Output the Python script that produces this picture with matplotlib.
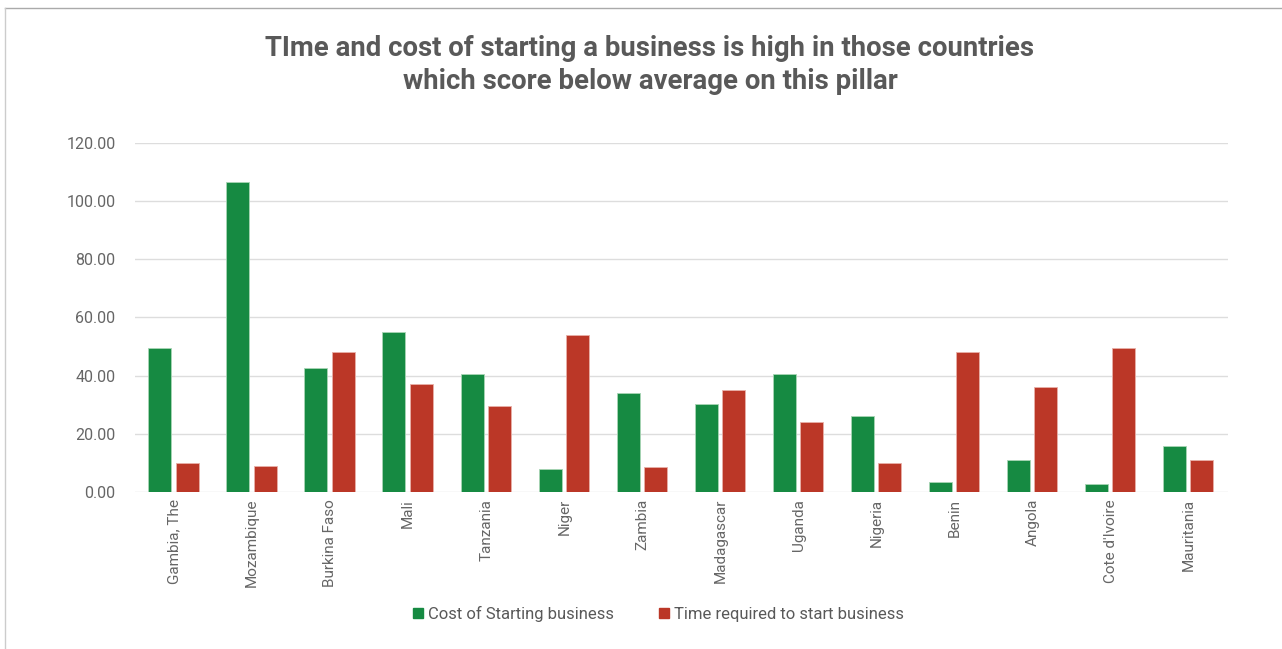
import numpy as np
import matplotlib
matplotlib.use("Agg")
import matplotlib.pyplot as plt
from matplotlib.lines import Line2D

plt.rcParams['font.family'] = ['Roboto', 'DejaVu Sans']

countries = ["Gambia, The", "Mozambique", "Burkina Faso", "Mali", "Tanzania", "Niger",
             "Zambia", "Madagascar", "Uganda", "Nigeria", "Benin", "Angola",
             "Cote d'Ivoire", "Mauritania"]
cost = [49.4, 106.7, 42.8, 55.1, 40.7, 7.8, 34.0, 30.1, 40.6, 26.0, 3.4, 11.0, 2.6, 15.7]
time_req = [9.9, 9.0, 48.0, 37.0, 29.5, 54.0, 8.5, 35.1, 24.0, 9.9, 48.0, 36.1, 49.5, 10.9]
yticks = [0, 20, 40, 60, 80, 100, 120]

green = '#168a42'
red = '#bb3727'
txt = '#666666'

fig = plt.figure(figsize=(12.82, 6.49), dpi=100)
ax = fig.add_axes([0.1053, 0.2419, 0.8525, 0.5378])

x = np.arange(len(countries))
w = 0.295
ax.bar(x - w/2 - 0.035, cost, w, color=green, edgecolor='#a8d5b5', linewidth=0.6,
       label='Cost of Starting business', zorder=3)
ax.bar(x + w/2 + 0.02, time_req, w, color=red, edgecolor='#e8b0a8', linewidth=0.6,
       label='Time required to start business', zorder=3)

ax.set_xlim(-0.5, len(countries) - 0.5)
ax.set_ylim(0, 120)
ax.set_yticks(yticks)
ax.set_yticklabels([f"{v:.2f}" for v in yticks], fontsize=11.5, color=txt)
ax.set_xticks(x)
ax.set_xticklabels(countries, rotation=90, fontsize=11, color=txt)
ax.tick_params(axis='x', length=0, pad=5)
ax.tick_params(axis='y', length=0, pad=14)
ax.grid(axis='y', color='#dddddd', linewidth=1, zorder=0)
for s in ax.spines.values():
    s.set_visible(False)

fig.text(0.507, 0.9, "TIme and cost of starting a business is high in those countries\nwhich score below average on this pillar",
         ha='center', va='center', fontsize=19.8, fontweight='bold', color='#595959',
         linespacing=1.28)

handles = [Line2D([], [], marker='s', linestyle='', markersize=7, color=green),
           Line2D([], [], marker='s', linestyle='', markersize=7, color=red)]
fig.legend(handles, ['Cost of Starting business', 'Time required to start business'],
           loc='center', bbox_to_anchor=(0.512, 0.054), ncol=2, frameon=False,
           fontsize=12, labelcolor='#595959', handletextpad=0.1, columnspacing=2.5,
           handlelength=1)

# chart border (top and left edges visible)
fig.add_artist(Line2D([0.004, 1.0], [1 - 8/649, 1 - 8/649], color='#aaaaaa', linewidth=1))
fig.add_artist(Line2D([5/1282, 5/1282], [0, 1 - 8/649], color='#cccccc', linewidth=1))

fig.savefig("out.png", dpi=100, facecolor='white')
